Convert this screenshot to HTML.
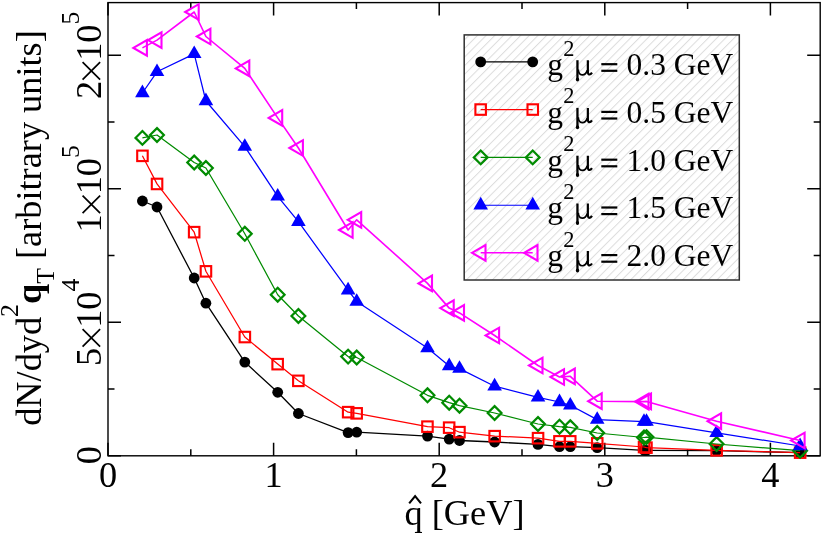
<!DOCTYPE html>
<html><head><meta charset="utf-8"><title>plot</title>
<style>
html,body{margin:0;padding:0;background:#fff;}
body{width:822px;height:535px;overflow:hidden;}
svg{display:block;will-change:transform;opacity:0.999;}
text{font-family:"Liberation Serif",serif;fill:#000;}
</style></head><body>
<svg width="822" height="535" viewBox="0 0 822 535">
<defs>
<pattern id="hatch" width="6.11" height="6.11" patternUnits="userSpaceOnUse" patternTransform="rotate(45)">
<line x1="2.3" y1="-1" x2="2.3" y2="8" stroke="#cdcdcd" stroke-width="0.7"/>
</pattern>
</defs>
<rect width="822" height="535" fill="#fff"/>
<rect x="108.0" y="2.6" width="712.2" height="453.2" fill="none" stroke="#000" stroke-width="1.4"/>
<path d="M108.0 455.8v-13.0M108.0 2.6v13.0M190.8 455.8v-6.5M190.8 2.6v6.5M273.6 455.8v-13.0M273.6 2.6v13.0M356.4 455.8v-6.5M356.4 2.6v6.5M439.2 455.8v-13.0M439.2 2.6v13.0M522.0 455.8v-6.5M522.0 2.6v6.5M604.8 455.8v-13.0M604.8 2.6v13.0M687.6 455.8v-6.5M687.6 2.6v6.5M770.4 455.8v-13.0M770.4 2.6v13.0M108.0 455.8h13.0M820.2 455.8h-13.0M108.0 389.1h6.5M820.2 389.1h-6.5M108.0 322.3h13.0M820.2 322.3h-13.0M108.0 255.6h6.5M820.2 255.6h-6.5M108.0 188.8h13.0M820.2 188.8h-13.0M108.0 122.1h6.5M820.2 122.1h-6.5M108.0 55.3h13.0M820.2 55.3h-13.0" stroke="#000" stroke-width="1.5" fill="none"/>
<polyline points="142.4,201.0 157.0,207.0 194.2,278.0 205.9,303.2 244.8,362.1 277.7,392.3 298.4,413.5 348.1,432.6 356.7,432.2 427.5,436.1 449.2,439.1 459.5,440.5 494.6,442.0 538.0,444.4 559.5,446.7 570.3,446.7 597.2,447.7 644.0,450.3 646.5,450.3 716.6,450.7 800.1,452.6" fill="none" stroke="#000" stroke-width="1.3" stroke-linejoin="round"/>
<circle cx="142.4" cy="201.0" r="5.4" fill="#000"/>
<circle cx="157.0" cy="207.0" r="5.4" fill="#000"/>
<circle cx="194.2" cy="278.0" r="5.4" fill="#000"/>
<circle cx="205.9" cy="303.2" r="5.4" fill="#000"/>
<circle cx="244.8" cy="362.1" r="5.4" fill="#000"/>
<circle cx="277.7" cy="392.3" r="5.4" fill="#000"/>
<circle cx="298.4" cy="413.5" r="5.4" fill="#000"/>
<circle cx="348.1" cy="432.6" r="5.4" fill="#000"/>
<circle cx="356.7" cy="432.2" r="5.4" fill="#000"/>
<circle cx="427.5" cy="436.1" r="5.4" fill="#000"/>
<circle cx="449.2" cy="439.1" r="5.4" fill="#000"/>
<circle cx="459.5" cy="440.5" r="5.4" fill="#000"/>
<circle cx="494.6" cy="442.0" r="5.4" fill="#000"/>
<circle cx="538.0" cy="444.4" r="5.4" fill="#000"/>
<circle cx="559.5" cy="446.7" r="5.4" fill="#000"/>
<circle cx="570.3" cy="446.7" r="5.4" fill="#000"/>
<circle cx="597.2" cy="447.7" r="5.4" fill="#000"/>
<circle cx="644.0" cy="450.3" r="5.4" fill="#000"/>
<circle cx="646.5" cy="450.3" r="5.4" fill="#000"/>
<circle cx="716.6" cy="450.7" r="5.4" fill="#000"/>
<circle cx="800.1" cy="452.6" r="5.4" fill="#000"/>
<polyline points="142.4,155.8 157.0,183.9 194.2,232.2 205.9,271.3 244.8,337.0 277.7,364.1 298.4,380.8 348.1,412.2 356.7,413.3 427.5,426.7 449.2,427.7 459.5,432.2 494.6,436.1 538.0,438.1 559.5,441.4 570.3,441.4 597.2,443.4 644.0,447.0 646.5,447.7 716.6,450.3 800.1,452.6" fill="none" stroke="#ff0000" stroke-width="1.25" stroke-linejoin="round"/>
<rect x="137.2" y="150.6" width="10.5" height="10.5" fill="none" stroke="#ff0000" stroke-width="2.1"/>
<rect x="151.8" y="178.7" width="10.5" height="10.5" fill="none" stroke="#ff0000" stroke-width="2.1"/>
<rect x="188.9" y="226.9" width="10.5" height="10.5" fill="none" stroke="#ff0000" stroke-width="2.1"/>
<rect x="200.7" y="266.1" width="10.5" height="10.5" fill="none" stroke="#ff0000" stroke-width="2.1"/>
<rect x="239.6" y="331.8" width="10.5" height="10.5" fill="none" stroke="#ff0000" stroke-width="2.1"/>
<rect x="272.4" y="358.9" width="10.5" height="10.5" fill="none" stroke="#ff0000" stroke-width="2.1"/>
<rect x="293.1" y="375.6" width="10.5" height="10.5" fill="none" stroke="#ff0000" stroke-width="2.1"/>
<rect x="342.9" y="406.9" width="10.5" height="10.5" fill="none" stroke="#ff0000" stroke-width="2.1"/>
<rect x="351.4" y="408.1" width="10.5" height="10.5" fill="none" stroke="#ff0000" stroke-width="2.1"/>
<rect x="422.2" y="421.4" width="10.5" height="10.5" fill="none" stroke="#ff0000" stroke-width="2.1"/>
<rect x="443.9" y="422.4" width="10.5" height="10.5" fill="none" stroke="#ff0000" stroke-width="2.1"/>
<rect x="454.2" y="426.9" width="10.5" height="10.5" fill="none" stroke="#ff0000" stroke-width="2.1"/>
<rect x="489.4" y="430.9" width="10.5" height="10.5" fill="none" stroke="#ff0000" stroke-width="2.1"/>
<rect x="532.8" y="432.9" width="10.5" height="10.5" fill="none" stroke="#ff0000" stroke-width="2.1"/>
<rect x="554.2" y="436.1" width="10.5" height="10.5" fill="none" stroke="#ff0000" stroke-width="2.1"/>
<rect x="565.0" y="436.1" width="10.5" height="10.5" fill="none" stroke="#ff0000" stroke-width="2.1"/>
<rect x="592.0" y="438.1" width="10.5" height="10.5" fill="none" stroke="#ff0000" stroke-width="2.1"/>
<rect x="638.8" y="441.8" width="10.5" height="10.5" fill="none" stroke="#ff0000" stroke-width="2.1"/>
<rect x="641.2" y="442.4" width="10.5" height="10.5" fill="none" stroke="#ff0000" stroke-width="2.1"/>
<rect x="711.4" y="445.1" width="10.5" height="10.5" fill="none" stroke="#ff0000" stroke-width="2.1"/>
<rect x="794.9" y="447.4" width="10.5" height="10.5" fill="none" stroke="#ff0000" stroke-width="2.1"/>
<polyline points="142.4,137.9 157.0,135.0 194.2,162.5 205.9,168.0 244.8,233.8 277.7,294.7 298.4,316.0 348.1,356.6 356.7,357.5 427.5,395.3 449.2,402.7 459.5,405.7 494.6,413.0 538.0,424.0 559.5,426.7 570.3,427.3 597.2,433.0 644.0,437.5 646.5,437.1 716.6,444.0 800.1,450.7" fill="none" stroke="#008b00" stroke-width="1.25" stroke-linejoin="round"/>
<path d="M142.4 131.0L149.3 137.9L142.4 144.8L135.5 137.9Z" fill="none" stroke="#008b00" stroke-width="2.2"/>
<path d="M157.0 128.1L163.9 135.0L157.0 141.9L150.1 135.0Z" fill="none" stroke="#008b00" stroke-width="2.2"/>
<path d="M194.2 155.6L201.1 162.5L194.2 169.4L187.3 162.5Z" fill="none" stroke="#008b00" stroke-width="2.2"/>
<path d="M205.9 161.1L212.8 168.0L205.9 174.9L199.0 168.0Z" fill="none" stroke="#008b00" stroke-width="2.2"/>
<path d="M244.8 226.9L251.7 233.8L244.8 240.7L237.9 233.8Z" fill="none" stroke="#008b00" stroke-width="2.2"/>
<path d="M277.7 287.8L284.6 294.7L277.7 301.6L270.8 294.7Z" fill="none" stroke="#008b00" stroke-width="2.2"/>
<path d="M298.4 309.1L305.3 316.0L298.4 322.9L291.5 316.0Z" fill="none" stroke="#008b00" stroke-width="2.2"/>
<path d="M348.1 349.7L355.0 356.6L348.1 363.5L341.2 356.6Z" fill="none" stroke="#008b00" stroke-width="2.2"/>
<path d="M356.7 350.6L363.6 357.5L356.7 364.4L349.8 357.5Z" fill="none" stroke="#008b00" stroke-width="2.2"/>
<path d="M427.5 388.4L434.4 395.3L427.5 402.2L420.6 395.3Z" fill="none" stroke="#008b00" stroke-width="2.2"/>
<path d="M449.2 395.8L456.1 402.7L449.2 409.6L442.3 402.7Z" fill="none" stroke="#008b00" stroke-width="2.2"/>
<path d="M459.5 398.8L466.4 405.7L459.5 412.6L452.6 405.7Z" fill="none" stroke="#008b00" stroke-width="2.2"/>
<path d="M494.6 406.1L501.5 413.0L494.6 419.9L487.7 413.0Z" fill="none" stroke="#008b00" stroke-width="2.2"/>
<path d="M538.0 417.1L544.9 424.0L538.0 430.9L531.1 424.0Z" fill="none" stroke="#008b00" stroke-width="2.2"/>
<path d="M559.5 419.8L566.4 426.7L559.5 433.6L552.6 426.7Z" fill="none" stroke="#008b00" stroke-width="2.2"/>
<path d="M570.3 420.4L577.2 427.3L570.3 434.2L563.4 427.3Z" fill="none" stroke="#008b00" stroke-width="2.2"/>
<path d="M597.2 426.1L604.1 433.0L597.2 439.9L590.3 433.0Z" fill="none" stroke="#008b00" stroke-width="2.2"/>
<path d="M644.0 430.6L650.9 437.5L644.0 444.4L637.1 437.5Z" fill="none" stroke="#008b00" stroke-width="2.2"/>
<path d="M646.5 430.2L653.4 437.1L646.5 444.0L639.6 437.1Z" fill="none" stroke="#008b00" stroke-width="2.2"/>
<path d="M716.6 437.1L723.5 444.0L716.6 450.9L709.7 444.0Z" fill="none" stroke="#008b00" stroke-width="2.2"/>
<path d="M800.1 443.8L807.0 450.7L800.1 457.6L793.2 450.7Z" fill="none" stroke="#008b00" stroke-width="2.2"/>
<polyline points="142.4,93.0 157.0,71.8 194.2,53.9 205.9,101.0 244.8,146.6 277.7,196.3 298.4,221.7 348.1,290.2 356.7,301.6 427.5,348.1 449.2,366.0 459.5,368.6 494.6,386.2 538.0,397.4 559.5,402.0 570.3,405.3 597.2,419.6 644.0,421.6 646.5,421.6 716.6,432.8 800.1,446.0" fill="none" stroke="#0000ff" stroke-width="1.25" stroke-linejoin="round"/>
<path d="M142.4 84.6L149.7 97.2L135.1 97.2Z" fill="#0000ff"/>
<path d="M157.0 63.4L164.3 76.0L149.7 76.0Z" fill="#0000ff"/>
<path d="M194.2 45.5L201.5 58.1L186.9 58.1Z" fill="#0000ff"/>
<path d="M205.9 92.6L213.2 105.2L198.6 105.2Z" fill="#0000ff"/>
<path d="M244.8 138.2L252.1 150.8L237.5 150.8Z" fill="#0000ff"/>
<path d="M277.7 187.9L285.0 200.5L270.4 200.5Z" fill="#0000ff"/>
<path d="M298.4 213.3L305.7 225.9L291.1 225.9Z" fill="#0000ff"/>
<path d="M348.1 281.8L355.4 294.4L340.8 294.4Z" fill="#0000ff"/>
<path d="M356.7 293.2L364.0 305.8L349.4 305.8Z" fill="#0000ff"/>
<path d="M427.5 339.7L434.8 352.3L420.2 352.3Z" fill="#0000ff"/>
<path d="M449.2 357.6L456.5 370.2L441.9 370.2Z" fill="#0000ff"/>
<path d="M459.5 360.2L466.8 372.8L452.2 372.8Z" fill="#0000ff"/>
<path d="M494.6 377.8L501.9 390.4L487.3 390.4Z" fill="#0000ff"/>
<path d="M538.0 389.0L545.3 401.6L530.7 401.6Z" fill="#0000ff"/>
<path d="M559.5 393.6L566.8 406.2L552.2 406.2Z" fill="#0000ff"/>
<path d="M570.3 396.9L577.6 409.5L563.0 409.5Z" fill="#0000ff"/>
<path d="M597.2 411.2L604.5 423.8L589.9 423.8Z" fill="#0000ff"/>
<path d="M644.0 413.2L651.3 425.8L636.7 425.8Z" fill="#0000ff"/>
<path d="M646.5 413.2L653.8 425.8L639.2 425.8Z" fill="#0000ff"/>
<path d="M716.6 424.4L723.9 437.0L709.3 437.0Z" fill="#0000ff"/>
<path d="M800.1 437.6L807.4 450.2L792.8 450.2Z" fill="#0000ff"/>
<polyline points="142.4,47.9 157.0,40.1 194.2,12.0 205.9,36.5 244.8,68.4 277.7,117.9 298.4,148.0 348.1,230.0 356.7,219.8 427.5,283.4 449.2,308.1 459.5,312.9 494.6,335.5 538.0,365.5 559.5,377.0 570.3,376.3 597.2,401.2 644.0,401.6 646.5,401.4 716.6,421.2 800.1,440.5" fill="none" stroke="#ff00ff" stroke-width="1.6" stroke-linejoin="round"/>
<path d="M133.4 47.9L146.9 40.1L146.9 55.7Z" fill="none" stroke="#ff00ff" stroke-width="2.1"/>
<path d="M148.0 40.1L161.5 32.3L161.5 47.9Z" fill="none" stroke="#ff00ff" stroke-width="2.1"/>
<path d="M185.2 12.0L198.7 4.2L198.7 19.8Z" fill="none" stroke="#ff00ff" stroke-width="2.1"/>
<path d="M196.9 36.5L210.4 28.7L210.4 44.3Z" fill="none" stroke="#ff00ff" stroke-width="2.1"/>
<path d="M235.8 68.4L249.3 60.6L249.3 76.2Z" fill="none" stroke="#ff00ff" stroke-width="2.1"/>
<path d="M268.7 117.9L282.2 110.1L282.2 125.7Z" fill="none" stroke="#ff00ff" stroke-width="2.1"/>
<path d="M289.4 148.0L302.9 140.2L302.9 155.8Z" fill="none" stroke="#ff00ff" stroke-width="2.1"/>
<path d="M339.1 230.0L352.6 222.2L352.6 237.8Z" fill="none" stroke="#ff00ff" stroke-width="2.1"/>
<path d="M347.7 219.8L361.2 212.0L361.2 227.6Z" fill="none" stroke="#ff00ff" stroke-width="2.1"/>
<path d="M418.5 283.4L432.0 275.6L432.0 291.2Z" fill="none" stroke="#ff00ff" stroke-width="2.1"/>
<path d="M440.2 308.1L453.7 300.3L453.7 315.9Z" fill="none" stroke="#ff00ff" stroke-width="2.1"/>
<path d="M450.5 312.9L464.0 305.1L464.0 320.7Z" fill="none" stroke="#ff00ff" stroke-width="2.1"/>
<path d="M485.6 335.5L499.1 327.7L499.1 343.3Z" fill="none" stroke="#ff00ff" stroke-width="2.1"/>
<path d="M529.0 365.5L542.5 357.7L542.5 373.3Z" fill="none" stroke="#ff00ff" stroke-width="2.1"/>
<path d="M550.5 377.0L564.0 369.2L564.0 384.8Z" fill="none" stroke="#ff00ff" stroke-width="2.1"/>
<path d="M561.3 376.3L574.8 368.5L574.8 384.1Z" fill="none" stroke="#ff00ff" stroke-width="2.1"/>
<path d="M588.2 401.2L601.7 393.4L601.7 409.0Z" fill="none" stroke="#ff00ff" stroke-width="2.1"/>
<path d="M635.0 401.6L648.5 393.8L648.5 409.4Z" fill="none" stroke="#ff00ff" stroke-width="2.1"/>
<path d="M637.5 401.4L651.0 393.6L651.0 409.2Z" fill="none" stroke="#ff00ff" stroke-width="2.1"/>
<path d="M707.6 421.2L721.1 413.4L721.1 429.0Z" fill="none" stroke="#ff00ff" stroke-width="2.1"/>
<path d="M791.1 440.5L804.6 432.7L804.6 448.3Z" fill="none" stroke="#ff00ff" stroke-width="2.1"/>
<text x="108.0" y="487.3" font-size="36.3" text-anchor="middle">0</text>
<text x="273.6" y="487.3" font-size="36.3" text-anchor="middle">1</text>
<text x="439.2" y="487.3" font-size="36.3" text-anchor="middle">2</text>
<text x="604.8" y="487.3" font-size="36.3" text-anchor="middle">3</text>
<text x="770.4" y="487.3" font-size="36.3" text-anchor="middle">4</text>
<g transform="translate(101.0,455.2) rotate(-90)"><text x="0" y="0" font-size="36.3" text-anchor="middle">0</text></g>
<g transform="translate(101.0,322.3) rotate(-90)"><text x="-43.63" y="0" font-size="36.3">5</text><path d="M-24.27 -0.89L-6.73 -18.42M-24.27 -18.42L-6.73 -0.89" stroke="#000" stroke-width="1.7" fill="none"/><text x="-5.55" y="0" font-size="36.3">10</text><text x="30.75" y="-22" font-size="25.77">4</text></g>
<g transform="translate(101.0,188.8) rotate(-90)"><text x="-43.63" y="0" font-size="36.3">1</text><path d="M-24.27 -0.89L-6.73 -18.42M-24.27 -18.42L-6.73 -0.89" stroke="#000" stroke-width="1.7" fill="none"/><text x="-5.55" y="0" font-size="36.3">10</text><text x="30.75" y="-22" font-size="25.77">5</text></g>
<g transform="translate(101.0,55.3) rotate(-90)"><text x="-43.63" y="0" font-size="36.3">2</text><path d="M-24.27 -0.89L-6.73 -18.42M-24.27 -18.42L-6.73 -0.89" stroke="#000" stroke-width="1.7" fill="none"/><text x="-5.55" y="0" font-size="36.3">10</text><text x="30.75" y="-22" font-size="25.77">5</text></g>
<text transform="translate(40.5,228.0) rotate(-90)" font-size="36.3" text-anchor="middle">dN/dyd<tspan font-size="25.77" dy="-22.5">2</tspan><tspan dy="22.5" font-weight="bold">q</tspan><tspan font-size="25.77" dy="13.8">T</tspan><tspan dy="-13.8"> [arbitrary units]</tspan></text>
<text x="464.5" y="524.6" font-size="36.3" text-anchor="middle">q [GeV]</text>
<path d="M409.2 503.4L415.1 496.2L421.0 503.4" fill="none" stroke="#000" stroke-width="2.1" stroke-linejoin="miter"/>
<rect x="464.2" y="34.9" width="275.1" height="245.1" fill="#fff"/>
<rect x="464.2" y="34.9" width="275.1" height="245.1" fill="url(#hatch)" stroke="#303030" stroke-width="1.5"/>
<line x1="480.7" y1="61.9" x2="532.7" y2="61.9" stroke="#000" stroke-width="1.4"/>
<circle cx="480.7" cy="61.9" r="5.4" fill="#000"/>
<circle cx="532.7" cy="61.9" r="5.4" fill="#000"/>
<text x="547.2" y="75.1" font-size="31.5">g</text><text x="563.2" y="55.7" font-size="22.4">2</text><g transform="translate(0,0.0)" fill="none" stroke="#000" stroke-linecap="butt"><path d="M577.45 60.2V79.6" stroke-width="2.3"/><ellipse cx="577.5" cy="79.6" rx="1.65" ry="2.0" fill="#000" stroke="none"/><path d="M578.3 69.5C578.6 76.4 585.2 76.6 587.3 70.2" stroke-width="1.7"/><path d="M587.85 60.2V71.5C587.85 75.2 590.2 75.4 592.0 72.6" stroke-width="2.2"/></g><rect x="601.3" y="63.1" width="16.0" height="2.2" fill="#000"/><rect x="601.3" y="69.7" width="16.0" height="2.2" fill="#000"/><text x="626.6" y="75.1" font-size="31.5">0.3 GeV</text>
<line x1="480.7" y1="109.6" x2="532.7" y2="109.6" stroke="#ff0000" stroke-width="1.15"/>
<rect x="475.4" y="104.3" width="10.5" height="10.5" fill="none" stroke="#ff0000" stroke-width="2.1"/>
<rect x="527.5" y="104.3" width="10.5" height="10.5" fill="none" stroke="#ff0000" stroke-width="2.1"/>
<text x="547.2" y="122.8" font-size="31.5">g</text><text x="563.2" y="103.4" font-size="22.4">2</text><g transform="translate(0,47.7)" fill="none" stroke="#000" stroke-linecap="butt"><path d="M577.45 60.2V79.6" stroke-width="2.3"/><ellipse cx="577.5" cy="79.6" rx="1.65" ry="2.0" fill="#000" stroke="none"/><path d="M578.3 69.5C578.6 76.4 585.2 76.6 587.3 70.2" stroke-width="1.7"/><path d="M587.85 60.2V71.5C587.85 75.2 590.2 75.4 592.0 72.6" stroke-width="2.2"/></g><rect x="601.3" y="110.8" width="16.0" height="2.2" fill="#000"/><rect x="601.3" y="117.4" width="16.0" height="2.2" fill="#000"/><text x="626.6" y="122.8" font-size="31.5">0.5 GeV</text>
<line x1="480.7" y1="157.4" x2="532.7" y2="157.4" stroke="#008b00" stroke-width="1.15"/>
<path d="M480.7 150.5L487.6 157.4L480.7 164.3L473.8 157.4Z" fill="none" stroke="#008b00" stroke-width="2.2"/>
<path d="M532.7 150.5L539.6 157.4L532.7 164.3L525.8 157.4Z" fill="none" stroke="#008b00" stroke-width="2.2"/>
<text x="547.2" y="170.6" font-size="31.5">g</text><text x="563.2" y="151.2" font-size="22.4">2</text><g transform="translate(0,95.5)" fill="none" stroke="#000" stroke-linecap="butt"><path d="M577.45 60.2V79.6" stroke-width="2.3"/><ellipse cx="577.5" cy="79.6" rx="1.65" ry="2.0" fill="#000" stroke="none"/><path d="M578.3 69.5C578.6 76.4 585.2 76.6 587.3 70.2" stroke-width="1.7"/><path d="M587.85 60.2V71.5C587.85 75.2 590.2 75.4 592.0 72.6" stroke-width="2.2"/></g><rect x="601.3" y="158.6" width="16.0" height="2.2" fill="#000"/><rect x="601.3" y="165.2" width="16.0" height="2.2" fill="#000"/><text x="626.6" y="170.6" font-size="31.5">1.0 GeV</text>
<line x1="480.7" y1="205.2" x2="532.7" y2="205.2" stroke="#0000ff" stroke-width="1.15"/>
<path d="M480.7 196.8L488.0 209.4L473.4 209.4Z" fill="#0000ff"/>
<path d="M532.7 196.8L540.0 209.4L525.4 209.4Z" fill="#0000ff"/>
<text x="547.2" y="218.4" font-size="31.5">g</text><text x="563.2" y="199.0" font-size="22.4">2</text><g transform="translate(0,143.3)" fill="none" stroke="#000" stroke-linecap="butt"><path d="M577.45 60.2V79.6" stroke-width="2.3"/><ellipse cx="577.5" cy="79.6" rx="1.65" ry="2.0" fill="#000" stroke="none"/><path d="M578.3 69.5C578.6 76.4 585.2 76.6 587.3 70.2" stroke-width="1.7"/><path d="M587.85 60.2V71.5C587.85 75.2 590.2 75.4 592.0 72.6" stroke-width="2.2"/></g><rect x="601.3" y="206.4" width="16.0" height="2.2" fill="#000"/><rect x="601.3" y="213.0" width="16.0" height="2.2" fill="#000"/><text x="626.6" y="218.4" font-size="31.5">1.5 GeV</text>
<line x1="480.7" y1="252.8" x2="532.7" y2="252.8" stroke="#ff00ff" stroke-width="1.5"/>
<path d="M472.0 252.8L485.5 245.0L485.5 260.6Z" fill="none" stroke="#ff00ff" stroke-width="2.1"/>
<path d="M524.0 252.8L537.5 245.0L537.5 260.6Z" fill="none" stroke="#ff00ff" stroke-width="2.1"/>
<text x="547.2" y="266.0" font-size="31.5">g</text><text x="563.2" y="246.6" font-size="22.4">2</text><g transform="translate(0,190.9)" fill="none" stroke="#000" stroke-linecap="butt"><path d="M577.45 60.2V79.6" stroke-width="2.3"/><ellipse cx="577.5" cy="79.6" rx="1.65" ry="2.0" fill="#000" stroke="none"/><path d="M578.3 69.5C578.6 76.4 585.2 76.6 587.3 70.2" stroke-width="1.7"/><path d="M587.85 60.2V71.5C587.85 75.2 590.2 75.4 592.0 72.6" stroke-width="2.2"/></g><rect x="601.3" y="254.0" width="16.0" height="2.2" fill="#000"/><rect x="601.3" y="260.6" width="16.0" height="2.2" fill="#000"/><text x="626.6" y="266.0" font-size="31.5">2.0 GeV</text>
</svg></body></html>
